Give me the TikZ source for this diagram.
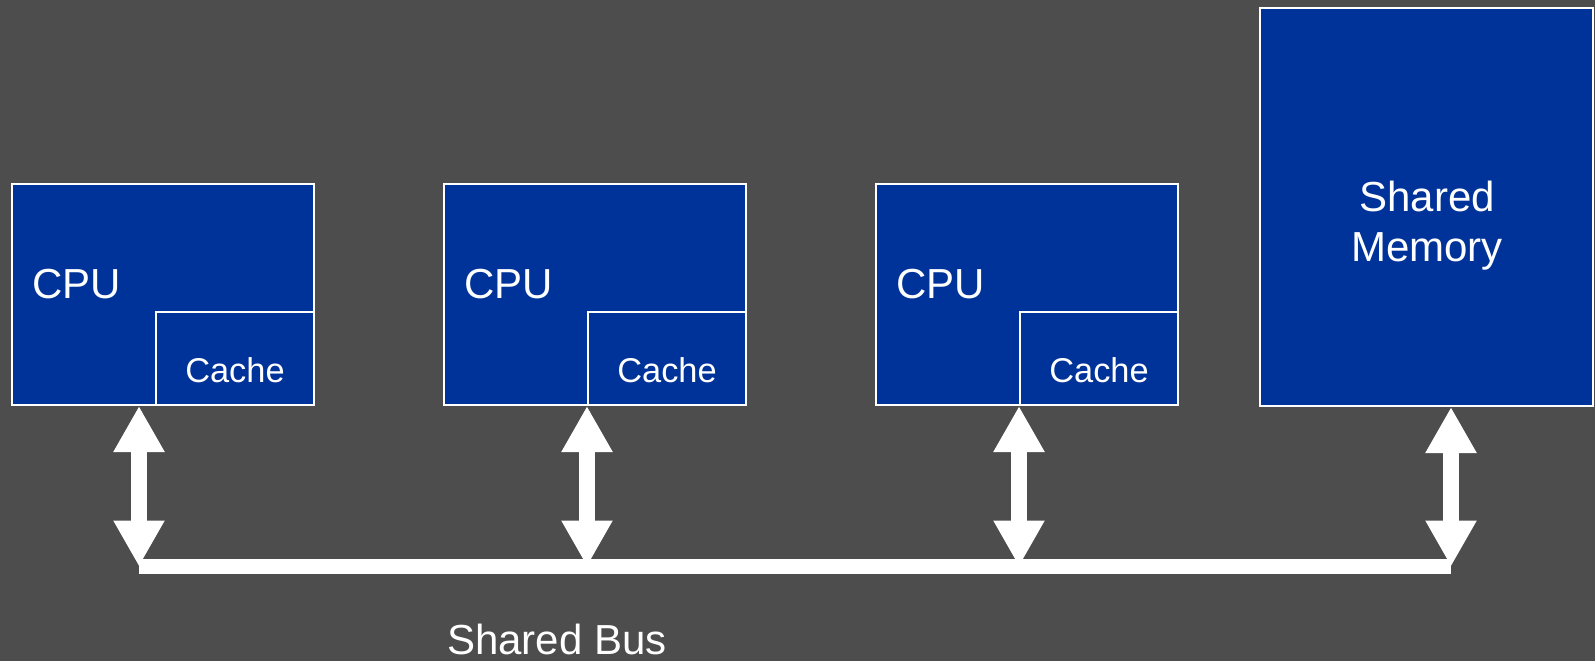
\documentclass[tikz,border=0pt]{standalone}
\usepackage{fontspec}
\setmainfont{Liberation Sans}
\usetikzlibrary{arrows.meta}
\definecolor{BGgrey}{RGB}{77,77,77}
\definecolor{Bfill}{RGB}{0,51,153}

\begin{document}
\begin{tikzpicture}[x=0.5pt,y=-0.5pt,
  unitbox/.style={draw=white,line width=1pt,fill=Bfill,inner sep=0pt},
  cpubox/.style={unitbox,minimum width=151pt,minimum height=110.5pt},
  cachebox/.style={unitbox,minimum width=79pt,minimum height=46.5pt},
  membox/.style={unitbox,minimum width=166.5pt,minimum height=199pt},
  bigtext/.style={text=white,inner sep=0pt,font=\fontsize{21}{25}\selectfont},
  smalltext/.style={text=white,inner sep=0pt,font=\fontsize{17.2}{20}\selectfont},
  busarrow/.style={draw=white,line width=8pt,
    {Triangle[width=24pt,length=23pt]}-{Triangle[width=24pt,length=23pt]}},
  busline/.style={draw=white,line width=7.5pt}]
\path[use as bounding box,fill=BGgrey] (0,0) rectangle (1595,661);
% processors
\node[cpubox] (cpu1) at (163,294.5) {};
\node[cachebox] (cache1) at (235,358.5) {};
\node[cpubox] (cpu2) at (595,294.5) {};
\node[cachebox] (cache2) at (667,358.5) {};
\node[cpubox] (cpu3) at (1027,294.5) {};
\node[cachebox] (cache3) at (1099,358.5) {};
\node[bigtext,anchor=base west] (cpulbl1) at (32,298) {CPU};
\node[bigtext,anchor=base west] (cpulbl2) at (464,298) {CPU};
\node[bigtext,anchor=base west] (cpulbl3) at (896,298) {CPU};
\node[smalltext,anchor=base] (cachelbl1) at (235,382) {Cache};
\node[smalltext,anchor=base] (cachelbl2) at (667,382) {Cache};
\node[smalltext,anchor=base] (cachelbl3) at (1099,382) {Cache};
% memory
\node[membox] (mem) at (1426.5,207) {};
\node[bigtext,align=center] (memlbl) at (1427,226) {Shared\\Memory};
% bus
\coordinate (tap1) at (139,566.5);
\coordinate (tap2) at (587,566.5);
\coordinate (tap3) at (1019,566.5);
\coordinate (tap4) at (1451,566.5);
\draw[busline] (tap1) -- (tap4);
\draw[busarrow] (tap1 |- cpu1.south) -- (tap1);
\draw[busarrow] (tap2 |- cpu2.south) -- (tap2);
\draw[busarrow] (tap3 |- cpu3.south) -- (tap3);
\draw[busarrow] (tap4 |- mem.south) -- (tap4);
\node[bigtext,anchor=base] (buslbl) at (557,654) {Shared Bus};
\end{tikzpicture}
\end{document}
